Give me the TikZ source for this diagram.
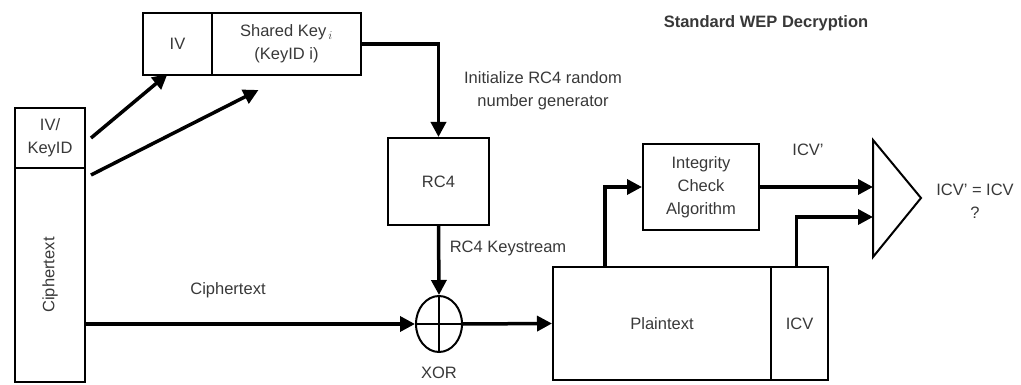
\documentclass[tikz,border=0pt]{standalone}
\usepackage{fontspec}
\setmainfont{Liberation Sans}
\usetikzlibrary{arrows.meta,shapes.geometric,calc}
\definecolor{txt}{gray}{0.22}
\newcommand\wepfont{\fontsize{16.5}{23}\selectfont}
\begin{document}
\begin{tikzpicture}[x=1pt,y=-1pt,
  box/.style={draw,line width=2pt,inner sep=0pt,text=txt,font=\wepfont,align=center},
  arr/.style={line width=3.5pt,-{Triangle[length=15pt,width=15pt]}},
  lbl/.style={text=txt,font=\wepfont,align=center,inner sep=0pt}]
\useasboundingbox (0,0) rectangle (1021,385);
% top key boxes
\node[box,minimum width=69pt,minimum height=62pt] (iv) at (177.5,44) {IV};
\node[box,minimum width=149pt,minimum height=62pt] (sk) at (286.5,44) {Shared Key$_{\,i}$\\(KeyID i)};
% left frame
\node[box,minimum width=70pt,minimum height=60pt] (ivk) at (50,138) {IV/\\KeyID};
\node[box,minimum width=70pt,minimum height=214pt] (ciph) at (50,275) {};
\node[lbl,rotate=90] at (ciph.center) {Ciphertext};
% RC4
\node[box,minimum width=101pt,minimum height=87pt] (rc4) at (438.5,181.5) {RC4};
% XOR
\node[draw,ellipse,line width=2pt,minimum width=46pt,minimum height=56pt,inner sep=0pt] (xor) at (439,324) {};
\draw[line width=1.2pt] (xor.north) -- (xor.south) (xor.west) -- (xor.east);
\node[lbl] (xorl) at (439,373) {XOR};
% plaintext / ICV
\node[box,minimum width=218pt,minimum height=113pt] (pt) at (662,323.5) {Plaintext};
\node[box,minimum width=57pt,minimum height=113pt] (icv) at (799.5,323.5) {ICV};
% integrity check
\node[box,minimum width=116pt,minimum height=86pt] (ica) at (701,187) {Integrity\\Check\\Algorithm};
% comparator triangle
\coordinate (ta) at (873,140);
\coordinate (tb) at (873,257);
\coordinate (tc) at (921,198);
\coordinate (tin2) at (873,217);
\draw[line width=2pt,line join=miter] (ta) -- (tc) -- (tb) -- cycle;
% connectors
\draw[arr] ([xshift=5pt]ivk.east) -- ([xshift=-10pt,yshift=2pt]iv.south);
\draw[arr] ([xshift=5pt,yshift=-6pt]ivk.south east) -- ([xshift=-28pt,yshift=-14pt]sk.south);
\draw[arr] (sk.east) -| (rc4.north);
\draw[arr] (rc4.south) -- (xor.north);
\draw[arr] (ciph.east |- xor.west) -- (xor.west);
\draw[arr] (xor.east) -- (pt.west);
\draw[arr] ([xshift=-57pt]pt.north) |- (ica.west);
\draw[arr] (ica.east) -- (ica.east -| ta);
\draw[arr] ([xshift=-3pt]icv.north) |- (tin2);
% labels
\node[lbl] (title) at (766,23) {\bfseries Standard WEP Decryption};
\node[lbl] (init) at (543,91) {Initialize RC4 random\\number generator};
\node[lbl] (ks) at (508,248) {RC4 Keystream};
\node[lbl] (ctl) at (228,290) {Ciphertext};
\node[lbl] (icvp) at (808,150) {ICV'};
\node[lbl] (cmp) at (975,201) {ICV' = ICV\\?};
\end{tikzpicture}
\end{document}
